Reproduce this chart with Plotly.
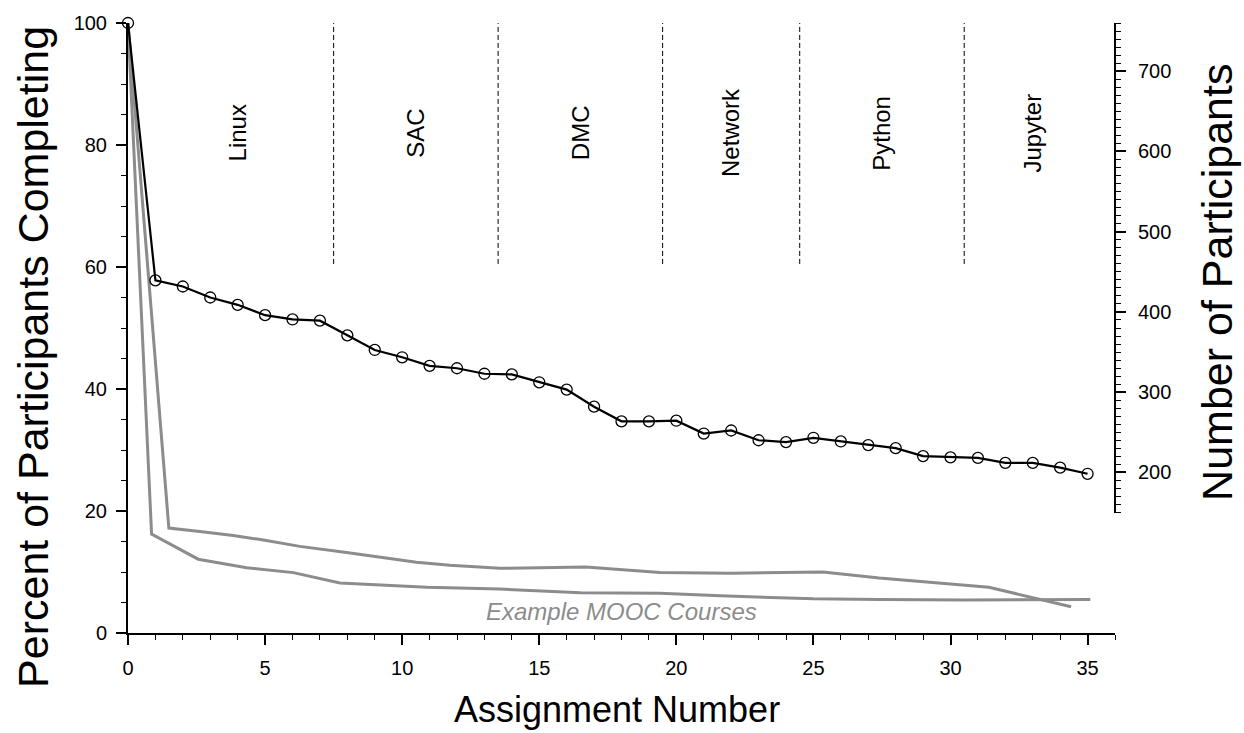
import plotly.graph_objects as go

# ---------------- data ----------------
assignment = list(range(0, 36))
pct_complete = [100, 57.8, 56.8, 55.0, 53.8, 52.1, 51.4, 51.2, 48.8, 46.4,
                45.2, 43.8, 43.4, 42.5, 42.4, 41.1, 39.9, 37.1, 34.7, 34.7,
                34.8, 32.7, 33.2, 31.6, 31.3, 32.0, 31.4, 30.8, 30.3, 29.0,
                28.8, 28.7, 27.9, 27.9, 27.1, 26.1]
total_participants = 760  # 100 %

mooc_a_x = [0, 1.49, 2.62, 3.84, 4.99, 6.27, 7.97, 9.31, 10.52, 11.74, 13.56,
            16.7, 19.4, 22.0, 25.35, 27.4, 29.5, 31.4, 34.4]
mooc_a_y = [100, 17.2, 16.65, 16.0, 15.2, 14.2, 13.2, 12.4, 11.6, 11.1, 10.6,
            10.8, 9.9, 9.8, 10.0, 9.0, 8.2, 7.5, 4.3]
mooc_b_x = [0, 0.86, 2.56, 4.33, 6.03, 7.73, 10.9, 13.56, 16.5, 19.4, 21.6,
            25.0, 27.4, 30.6, 35.1]
mooc_b_y = [100, 16.2, 12.1, 10.7, 9.9, 8.2, 7.5, 7.2, 6.6, 6.5, 6.1,
            5.6, 5.5, 5.4, 5.5]

module_names = ["Linux", "SAC", "DMC", "Network", "Python", "Jupyter"]
module_centers = [4, 10.5, 16.5, 22, 27.5, 33]
module_bounds = [7.5, 13.5, 19.5, 24.5, 30.5]
divider_range = [60.5, 100]

x_ticks = [0, 5, 10, 15, 20, 25, 30, 35]
y_ticks = [0, 20, 40, 60, 80, 100]
y2_ticks = [200, 300, 400, 500, 600, 700]
y2_range = [150, 760]

FONT = "Liberation Sans, Arial, Helvetica, sans-serif"
GRAY = "rgb(140,140,140)"

fig = go.Figure()

fig.add_trace(go.Scatter(x=mooc_a_x, y=mooc_a_y, mode="lines",
                         line=dict(color=GRAY, width=3), cliponaxis=False,
                         showlegend=False, hoverinfo="skip"))
fig.add_trace(go.Scatter(x=mooc_b_x, y=mooc_b_y, mode="lines",
                         line=dict(color=GRAY, width=3), cliponaxis=False,
                         showlegend=False, hoverinfo="skip"))
fig.add_trace(go.Scatter(x=assignment, y=pct_complete, mode="lines+markers",
                         line=dict(color="black", width=2.2),
                         marker=dict(symbol="circle-open", size=11,
                                     color="black", line=dict(width=1.3)),
                         cliponaxis=False, showlegend=False))
# participants axis (same data expressed as counts)
fig.add_trace(go.Scatter(x=assignment,
                         y=[p * total_participants / 100 for p in pct_complete],
                         yaxis="y2", mode="lines", opacity=0,
                         showlegend=False, hoverinfo="skip"))

for b in module_bounds:
    fig.add_shape(type="line", x0=b, x1=b, y0=divider_range[0], y1=divider_range[1],
                  xref="x", yref="y", line=dict(color="black", width=1, dash="5px,3px"))

for name, c in zip(module_names, module_centers):
    fig.add_annotation(x=c, y=82, text=name, textangle=-90, showarrow=False,
                       xanchor="center", yanchor="middle",
                       font=dict(family=FONT, size=24, color="black"))

fig.add_annotation(x=18, y=3.5, text="<i>Example MOOC Courses</i>", showarrow=False,
                   xanchor="center", yanchor="middle",
                   font=dict(family=FONT, size=24, color=GRAY))

# titles
fig.add_annotation(xref="paper", yref="paper", x=-0.097, y=0.453,
                   text="Percent of Participants Completing", textangle=-90,
                   showarrow=False, xanchor="center", yanchor="middle",
                   font=dict(family=FONT, size=43, color="black"))
fig.add_annotation(xref="paper", yref="paper", x=1.104, y=0.575,
                   text="Number of Participants", textangle=-90,
                   showarrow=False, xanchor="center", yanchor="middle",
                   font=dict(family=FONT, size=43, color="black"))
fig.add_annotation(xref="paper", yref="paper", x=0.495, y=-0.125,
                   text="Assignment Number",
                   showarrow=False, xanchor="center", yanchor="middle",
                   font=dict(family=FONT, size=36, color="black"))

axis_common = dict(showgrid=False, zeroline=False, showline=True,
                   linecolor="black", linewidth=2, ticks="outside",
                   ticklen=10, tickwidth=1.5, tickcolor="black",
                   tickfont=dict(family=FONT, size=20, color="black"))

fig.update_layout(
    width=1244, height=733,
    margin=dict(l=128, r=129, t=19, b=100),
    paper_bgcolor="white", plot_bgcolor="rgba(0,0,0,0)",
    xaxis=dict(range=[0, 36], tickvals=x_ticks, ticklabelstandoff=6,
               minor=dict(dtick=1, tick0=0, ticklen=5, tickwidth=1.2,
                          tickcolor="black", ticks="outside"),
               **axis_common),
    yaxis=dict(range=[0, 100], tickvals=y_ticks, ticklabelstandoff=5,
               minor=dict(dtick=5, tick0=0, ticklen=5, tickwidth=1.2,
                          tickcolor="black", ticks="outside"),
               **axis_common),
    yaxis2=dict(range=y2_range, domain=[y2_range[0] / total_participants, 1],
                anchor="free", position=1, side="right", tickvals=y2_ticks,
                ticklabelstandoff=8,
                minor=dict(dtick=10, tick0=0, ticklen=5, tickwidth=1.2,
                           tickcolor="black", ticks="outside"),
                **axis_common),
)

fig.write_html("out.html")
